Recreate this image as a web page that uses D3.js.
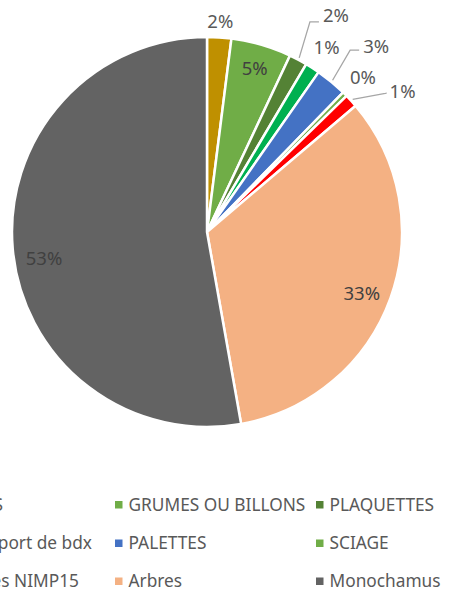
<!DOCTYPE html>
<html>
<head>
<meta charset="utf-8">
<script src="https://cdn.jsdelivr.net/npm/d3@7.9.0/dist/d3.min.js"></script>
<style>
  html, body { margin: 0; padding: 0; background: #fff; }
  svg { display: block; font-family: "Noto Sans", "Open Sans", sans-serif; }
</style>
</head>
<body>
<svg id="chart" width="449" height="590"></svg>
<script>
// categories in pie order (clockwise from 12 o'clock)
const categories = ["ECORCES", "GRUMES OU BILLONS", "PLAQUETTES", "Bois du port de bdx",
  "PALETTES", "SCIAGE", "Emballages NIMP15", "Arbres", "Monochamus"];
// share of each category, in percent
const shares = [2.0, 5.0, 1.5, 1.2, 2.6, 0.4, 1.1, 33.4, 52.8];
const colors = ["#BF9000", "#70AD47", "#548235", "#00B050",
  "#4472C4", "#70AD47", "#FF0000", "#F4B183", "#636363"];

// how each data label is placed: inside, outside, or with a leader line
const labelLayout = [
  { kind: "out", r: 212, da: 0 },
  { kind: "in", r: 171, da: 0 },
  { kind: "leader", r: 234, da: -1.8, dx: 13, dy: -7 },
  { kind: "out", r: 221, da: 0 },
  { kind: "leader", r: 231.5, da: -1.4, dx: 13, dy: -5 },
  { kind: "out", r: 220.5, da: 0 },
  { kind: "leader", r: 227, da: 4.6, dx: 3, dy: -3 },
  { kind: "in", r: 166, da: 1.4 },
  { kind: "in", r: 165, da: -4 }
];

const svg = d3.select("#chart");
const cx = 207, cy = 232, R = 195;

const data = categories.map((c, i) => ({ name: c, value: shares[i], color: colors[i], layout: labelLayout[i] }));

const pie = d3.pie().value(d => d.value).sort(null);
const arc = d3.arc().innerRadius(0).outerRadius(R);
const arcs = pie(data);

const g = svg.append("g").attr("transform", `translate(${cx},${cy})`);

g.selectAll("path.slice")
  .data(arcs)
  .join("path")
  .attr("class", "slice")
  .attr("d", arc)
  .attr("fill", d => d.data.color)
  .attr("stroke", "#fff")
  .attr("stroke-width", 2.5)
  .attr("stroke-linejoin", "round");

// polar helper, angle in radians measured clockwise from top
const polar = (a, r) => [Math.sin(a) * r, -Math.cos(a) * r];
const deg = Math.PI / 180;

arcs.forEach(d => {
  const L = d.data.layout;
  const mid = (d.startAngle + d.endAngle) / 2;
  const label = Math.round(d.data.value) + "%";
  if (L.kind === "leader") {
    const p0 = polar(mid, R + 2);
    const p1 = polar(mid + L.da * deg, L.r);
    const tx = p1[0] + L.dx, ty = p1[1] + L.dy;
    g.append("path")
      .attr("d", d3.line()([p0, p1, [tx - 4, p1[1]]]))
      .attr("fill", "none")
      .attr("stroke", "#A6A6A6")
      .attr("stroke-width", 1.3);
    g.append("text")
      .attr("x", tx).attr("y", ty)
      .attr("dominant-baseline", "central")
      .attr("font-size", 18.5)
      .attr("fill", "#595959")
      .text(label);
  } else {
    const p = polar(mid + L.da * deg, L.r);
    g.append("text")
      .attr("x", p[0]).attr("y", p[1])
      .attr("text-anchor", "middle")
      .attr("dominant-baseline", "central")
      .attr("font-size", 18.5)
      .attr("fill", L.kind === "in" ? "#404040" : "#595959")
      .text(label);
  }
});

// legend: three columns, row-major order; the first column runs off the left edge,
// its texts end where the reference crops them
const colX = [null, 115, 316];
const col0End = [3, 92, 79];
const rowY = [504, 542.5, 580.5];
const legend = svg.append("g");
data.forEach((d, i) => {
  const col = i % 3, row = Math.floor(i / 3);
  const item = legend.append("g");
  const text = item.append("text")
    .attr("dominant-baseline", "central")
    .attr("y", rowY[row])
    .attr("font-size", 17.3)
    .attr("fill", "#595959")
    .text(d.name);
  let mx;
  if (col === 0) {
    text.attr("x", col0End[row]).attr("text-anchor", "end");
    mx = col0End[row] - text.node().getComputedTextLength() - 13.5;
  } else {
    mx = colX[col];
    text.attr("x", mx + 13.5);
  }
  item.append("rect")
    .attr("x", mx).attr("y", rowY[row] - 3)
    .attr("width", 7.5).attr("height", 7.5)
    .attr("fill", d.color);
});
</script>
</body>
</html>
